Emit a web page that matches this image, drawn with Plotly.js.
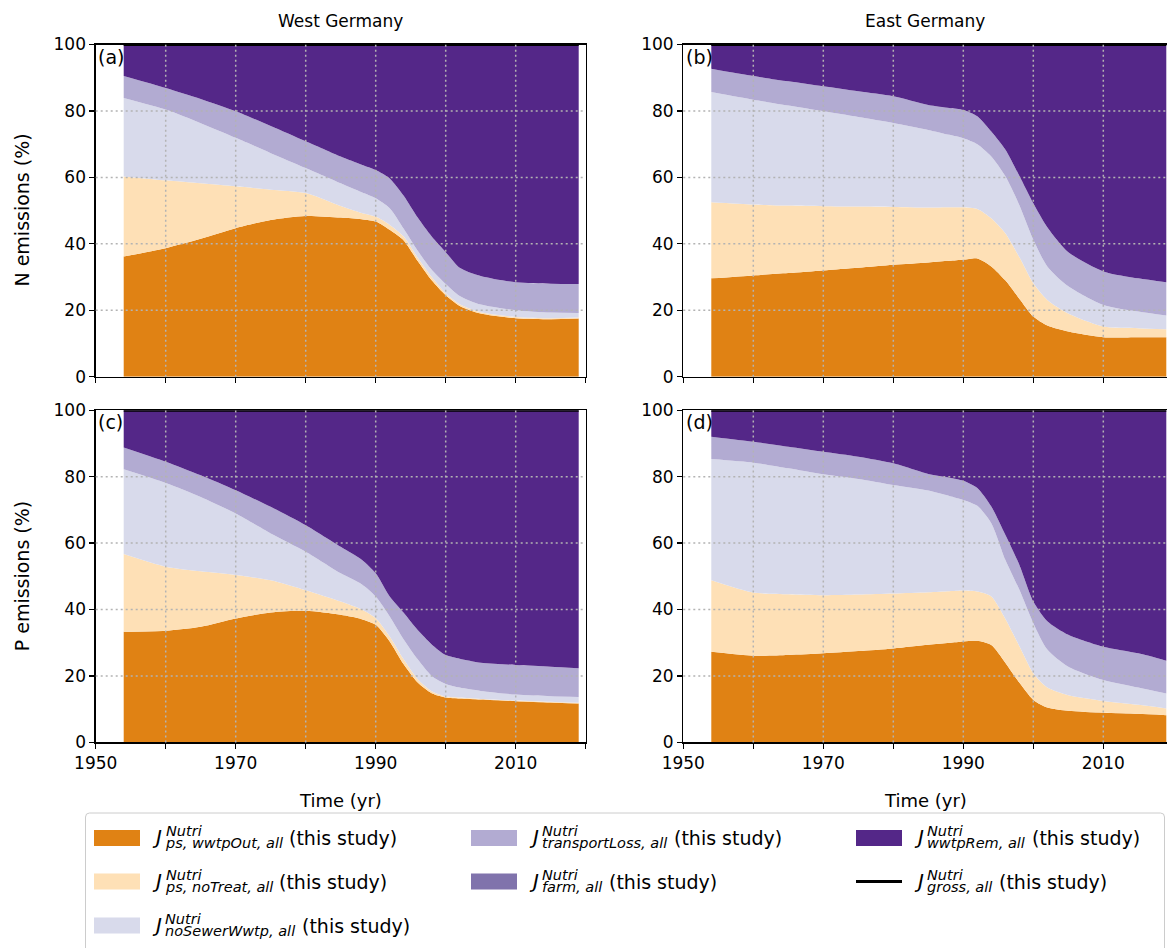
<!DOCTYPE html>
<html><head><meta charset="utf-8">
<script src="https://cdn.plot.ly/plotly-3.0.1.min.js"></script>
<style>html,body{margin:0;padding:0;background:#fff}#chart{width:1167px;height:948px}</style>
</head><body><div id="chart"></div>
<script>
// ---------------- data (shares in %) ----------------
const years = [1954,1960,1965,1970,1975,1980,1985,1988,1990,1992,1994,1996,1998,2000,2002,2005,2010,2015,2019];

// (a) West Germany, N
const nWest_wwtpOut   = [36.2,38.7,41.5,44.7,47.2,48.4,47.9,47.4,46.7,44.2,41.0,34.8,29.0,24.5,21.3,19.0,17.6,17.3,17.5];
const nWest_noTreat   = [24.1,20.4,16.7,12.6,9.1,6.9,3.5,1.9,1.5,1.5,1.2,1.0,1.0,0.6,0.5,0.4,0.4,0.3,0.3];
const nWest_noSewer   = [23.6,21.3,18.1,14.6,11.0,7.5,6.8,6.2,5.5,5.0,2.3,2.1,2.2,2.8,2.5,2.3,2.0,1.7,1.4];
const nWest_transport = [6.6,6.5,7.3,8.0,8.2,8.1,8.1,8.3,8.5,9.0,10.0,10.0,10.0,9.6,8.5,8.6,8.4,8.7,8.7];
const nWest_farm      = [0,0,0,0,0,0,0,0,0,0,0,0,0,0,0,0,0,0,0];
const nWest_wwtpRem   = [9.5,13.1,16.4,20.1,24.5,29.1,33.7,36.2,37.8,40.3,45.5,52.1,57.8,62.5,67.2,69.7,71.6,72.0,72.1];

// (b) East Germany, N
const nEast_wwtpOut   = [29.6,30.5,31.2,32.0,32.8,33.7,34.4,34.9,35.2,35.6,33.2,29.0,23.5,18.1,15.4,13.6,11.9,11.9,11.9];
const nEast_noTreat   = [22.9,21.3,20.3,19.3,18.4,17.4,16.5,16.1,15.8,14.9,14.5,14.2,12.5,10.0,7.7,5.4,3.2,2.7,2.4];
const nEast_noSewer   = [33.2,31.6,30.1,28.6,27.0,25.3,23.4,21.8,20.8,19.5,18.6,17.2,15.7,13.1,10.1,8.2,6.5,5.0,4.1];
const nEast_transport = [7.0,7.1,7.3,7.5,7.7,8.0,7.5,8.1,8.5,8.4,7.5,8.0,8.8,11.0,11.8,10.3,10.1,10.0,10.0];
const nEast_farm      = [0,0,0,0,0,0,0,0,0,0,0,0,0,0,0,0,0,0,0];
const nEast_wwtpRem   = [7.3,9.5,11.1,12.6,14.1,15.6,18.2,19.1,19.7,21.6,26.2,31.6,39.5,47.8,55.0,62.5,68.3,70.4,71.6];

// (c) West Germany, P
const pWest_wwtpOut   = [33.3,33.6,34.8,37.3,39.1,39.6,38.4,37.1,35.4,30.4,23.5,18.0,14.8,13.5,13.2,12.9,12.4,12.0,11.7];
const pWest_noTreat   = [23.4,19.3,16.7,13.1,9.7,6.2,4.0,2.9,2.0,1.5,1.5,1.0,0.6,0.3,0.3,0.2,0.2,0.2,0.2];
const pWest_noSewer   = [25.5,25.2,22.4,18.5,14.1,11.6,8.5,7.6,6.5,6.0,6.0,6.0,4.6,3.8,3.0,2.4,1.8,1.7,1.8];
const pWest_transport = [6.6,6.4,6.5,7.0,8.0,8.0,8.0,7.4,7.0,6.0,8.0,8.8,9.5,8.7,8.7,8.5,8.9,8.9,8.6];
const pWest_farm      = [0,0,0,0,0,0,0,0,0,0,0,0,0,0,0,0,0,0,0];
const pWest_wwtpRem   = [11.2,15.5,19.6,24.1,29.1,34.6,41.1,45.0,49.1,56.1,61.0,66.2,70.5,73.7,74.8,76.0,76.7,77.2,77.7];

// (d) East Germany, P
const pEast_wwtpOut   = [27.3,26.1,26.3,26.8,27.5,28.3,29.4,30.0,30.4,30.6,29.3,24.0,18.0,12.8,10.5,9.5,8.9,8.6,8.2];
const pEast_noTreat   = [21.5,19.0,18.3,17.5,17.0,16.5,15.8,15.5,15.3,14.8,14.6,13.2,11.0,8.0,6.0,4.7,3.6,2.7,2.0];
const pEast_noSewer   = [36.5,39.1,37.9,36.4,34.8,32.7,30.6,28.7,27.3,25.8,22.1,17.8,17.0,15.1,11.5,8.6,6.3,5.2,4.5];
const pEast_transport = [6.7,6.3,6.5,6.8,6.7,6.5,5.0,5.5,5.8,5.4,5.0,7.5,7.5,6.5,8.5,9.6,10.0,10.3,9.9];
const pEast_farm      = [0,0,0,0,0,0,0,0,0,0,0,0,0,0,0,0,0,0,0];
const pEast_wwtpRem   = [8.0,9.5,11.0,12.5,14.0,16.0,19.2,20.3,21.2,23.4,29.0,37.5,46.5,57.6,63.5,67.6,71.2,73.2,75.4];

const seriesColors = ['#e08214','#fee0b6','#d8daeb','#b2abd2','#8073ac','#542788'];
const legendSubs = ['ps, wwtpOut, all','ps, noTreat, all','noSewerWwtp, all','transportLoss, all','farm, all','wwtpRem, all','gross, all'];
const xTickVals = [1950,1960,1970,1980,1990,2000,2010,2020];
const xTickText = ['1950','','1970','','1990','','2010',''];
const yTickVals = [0,20,40,60,80,100];
const panelTitles = ['West Germany','East Germany'];
const rowTitles = ['N emissions (%)','P emissions (%)'];
const panelLetters = ['(a)','(b)','(c)','(d)'];

// ---------------- layout geometry (pixels) ----------------
const W = 1167, H = 948;
const px = v => v / W, py = v => 1 - v / H;
const FONT = 'DejaVu Sans';
const colPix = [[95.7, 585.7], [683.3, 1167]];
const xRanges = [[1950, 2020], [1950, 2019.1]];
const rowPix = [[44.5, 376.7], [410.2, 742.4]];

const panels = [
  {data:[nWest_wwtpOut,nWest_noTreat,nWest_noSewer,nWest_transport,nWest_farm,nWest_wwtpRem], col:0,row:0},
  {data:[nEast_wwtpOut,nEast_noTreat,nEast_noSewer,nEast_transport,nEast_farm,nEast_wwtpRem], col:1,row:0},
  {data:[pWest_wwtpOut,pWest_noTreat,pWest_noSewer,pWest_transport,pWest_farm,pWest_wwtpRem], col:0,row:1},
  {data:[pEast_wwtpOut,pEast_noTreat,pEast_noSewer,pEast_transport,pEast_farm,pEast_wwtpRem], col:1,row:1}
];

const traces = [], shapes = [], annotations = [];
const layout = {
  width: W, height: H, margin:{l:0,r:0,t:0,b:0},
  paper_bgcolor:'#fff', plot_bgcolor:'#fff', showlegend:false,
  font:{family:FONT, color:'#000', size:17}
};
const grid = {color:'#b3b3b3', width:1.5, dash:'2px,3px'};

panels.forEach((p, k) => {
  const n = k + 1;
  const xa = n === 1 ? 'x' : 'x' + n, ya = n === 1 ? 'y' : 'y' + n;
  const xr = xRanges[p.col];
  p.data.forEach((vals, i) => {
    traces.push({x: years, y: vals, type:'scatter', mode:'lines', stackgroup:'s'+n,
      line:{width:0, shape:'spline', smoothing:0.7},
      fillcolor: seriesColors[i], xaxis: xa, yaxis: ya, hoverinfo:'skip', showlegend:false});
  });
  const gross = years.map((_, j) => p.data.reduce((s, arr) => s + arr[j], 0));
  traces.push({x: years, y: gross, type:'scatter', mode:'lines', line:{color:'#000', width:3},
    xaxis: xa, yaxis: ya, hoverinfo:'skip', showlegend:false});

  const common = {showline:true, linecolor:'#000', linewidth:1.3, ticks:'outside',
    ticklen:5, tickwidth:1.2, tickcolor:'#000', showgrid:false, zeroline:false, fixedrange:true,
    tickfont:{family:FONT, size:17, color:'#000'}};
  layout[n === 1 ? 'xaxis' : 'xaxis' + n] = Object.assign({}, common, {
    mirror:true,
    domain:[px(colPix[p.col][0]), px(colPix[p.col][1])], range: xr, anchor: ya,
    tickmode:'array', tickvals: xTickVals,
    ticktext: p.row === 1 ? xTickText : xTickVals.map(() => '')
  });
  layout[n === 1 ? 'yaxis' : 'yaxis' + n] = Object.assign({}, common, {
    mirror: p.col === 0,
    domain:[py(rowPix[p.row][1]), py(rowPix[p.row][0])], range:[0, 100], anchor: xa,
    tickmode:'array', tickvals: yTickVals
  });
  xTickVals.forEach(v => { if (v > xr[0] && v < xr[1]) shapes.push({type:'line', layer:'above',
    xref: xa, yref: ya + ' domain', x0:v, x1:v, y0:0, y1:1, line: grid}); });
  yTickVals.forEach(v => { if (v > 0 && v < 100) shapes.push({type:'line', layer:'above',
    xref: xa + ' domain', yref: ya, x0:0, x1:1, y0:v, y1:v, line: grid}); });
  annotations.push({text: panelLetters[k], xref:'paper', yref:'paper', x: px(colPix[p.col][0] + 0.5),
    y: py(rowPix[p.row][0] - 1), xanchor:'left', yanchor:'top', showarrow:false,
    font:{family:FONT, size:19, color:'#000'}});
});

// titles
[0,1].forEach(c => {
  const cx = (colPix[c][0] + colPix[c][1]) / 2;
  annotations.push({text: panelTitles[c], xref:'paper', yref:'paper', x: px(cx), y: py(21),
    xanchor:'center', yanchor:'middle', showarrow:false, font:{family:FONT, size:17}});
  annotations.push({text:'Time (yr)', xref:'paper', yref:'paper', x: px(cx), y: py(800),
    xanchor:'center', yanchor:'middle', showarrow:false, font:{family:FONT, size:18}});
});
[0,1].forEach(r => {
  const cy = (rowPix[r][0] + rowPix[r][1]) / 2;
  annotations.push({text: rowTitles[r], xref:'paper', yref:'paper', x: px(22), y: py(cy),
    xanchor:'center', yanchor:'middle', textangle:-90, showarrow:false, font:{family:FONT, size:19}});
});

// legend box with rounded corners
(function(){
  const x0 = 85.5, x1 = 1164.5, y0 = 813, y1 = 960, r = 4;
  const P = (x, y) => px(x) + ',' + py(y);
  shapes.push({type:'path', xref:'paper', yref:'paper', layer:'above',
    path: 'M' + P(x0 + r, y0) + ' L' + P(x1 - r, y0) + ' Q' + P(x1, y0) + ' ' + P(x1, y0 + r) +
          ' L' + P(x1, y1) + ' L' + P(x0, y1) + ' L' + P(x0, y0 + r) + ' Q' + P(x0, y0) + ' ' + P(x0 + r, y0) + ' Z',
    fillcolor:'rgba(255,255,255,0.8)', line:{color:'#cccccc', width:1}});
})();

// legend entries
const ctx = document.createElement('canvas').getContext('2d');
const measure = (t, size, italic) => { ctx.font = (italic ? 'italic ' : '') + size + 'px "' + FONT + '"'; return ctx.measureText(t).width; };
const legendCols = [94, 471, 856];
const legendRows = [838, 881.5, 925.5];
const legendLayout = [[0,0],[0,1],[0,2],[1,0],[1,1],[2,0],[2,1]]; // [col,row] per entry
const SUB = 14.5;
legendSubs.forEach((sub, i) => {
  const [c, r] = legendLayout[i];
  const lx = legendCols[c], cy = legendRows[r];
  if (i < 6) {
    shapes.push({type:'rect', xref:'paper', yref:'paper', layer:'above', x0: px(lx), x1: px(lx + 46),
      y0: py(cy - 8), y1: py(cy + 8), fillcolor: seriesColors[i], line:{width:0}});
  } else {
    shapes.push({type:'line', xref:'paper', yref:'paper', layer:'above', x0: px(lx), x1: px(lx + 46),
      y0: py(cy), y1: py(cy), line:{color:'#000', width:3}});
  }
  const ann = (t, x, y, size) => annotations.push({text: t, xref:'paper', yref:'paper', x: px(x), y: py(y),
    xanchor:'left', yanchor:'middle', align:'left', showarrow:false, borderpad:0,
    font:{family:FONT, size:size, color:'#000'}});
  ann('<i>J</i>', lx + 57, cy - 1, 20);
  // stacked superscript / subscript in one text block (line spacing set by the small base size)
  const span = t => '<span style="font-size:' + SUB + 'px"><i>' + t + '</i></span>';
  ann(span('Nutri') + '<br>' + span(sub), lx + 70, cy - 1, 9);
  const wS = Math.max(measure(sub, SUB, true), measure('Nutri', SUB, true));
  ann('(this study)', lx + 70 + wS + 7, cy, 19);
});

layout.shapes = shapes;
layout.annotations = annotations;
Plotly.newPlot('chart', traces, layout, {staticPlot:true, displayModeBar:false});
</script>
</body></html>
